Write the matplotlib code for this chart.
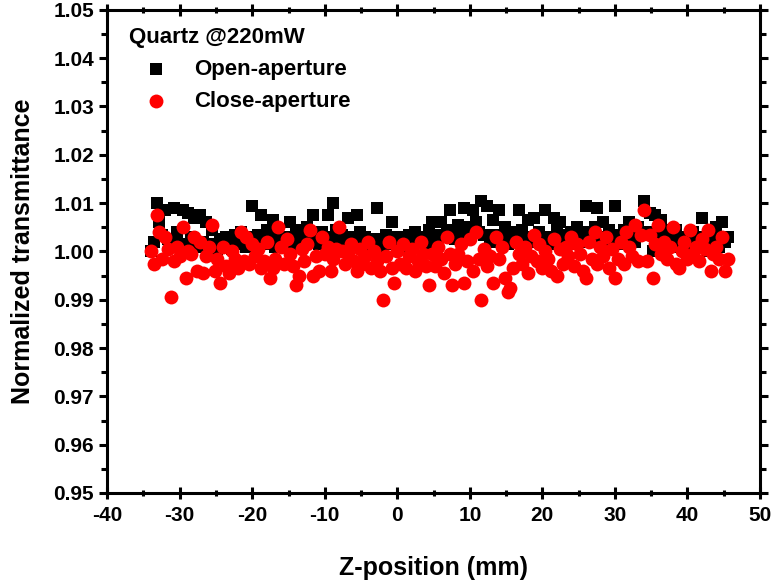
import matplotlib
matplotlib.use('Agg')
import matplotlib.pyplot as plt
from matplotlib.ticker import MultipleLocator

plt.rcParams['font.family'] = ['Liberation Sans', 'DejaVu Sans']
plt.rcParams['font.weight'] = 'bold'
plt.rcParams['axes.unicode_minus'] = False

# Z-scan positions (mm)
z_pos = [
    -34.0, -33.6, -33.2, -32.8, -32.4, -32.0, -31.6, -31.2, -30.8, -30.4,
    -30.0, -29.6, -29.2, -28.8, -28.4, -28.0, -27.6, -27.2, -26.8, -26.4,
    -26.0, -25.6, -25.2, -24.8, -24.4, -24.0, -23.6, -23.2, -22.8, -22.4,
    -22.0, -21.6, -21.2, -20.8, -20.4, -20.0, -19.6, -19.2, -18.8, -18.4,
    -18.0, -17.6, -17.2, -16.8, -16.4, -16.0, -15.6, -15.2, -14.8, -14.4,
    -14.0, -13.6, -13.2, -12.8, -12.4, -12.0, -11.6, -11.2, -10.8, -10.4,
    -10.0, -9.6, -9.2, -8.8, -8.4, -8.0, -7.6, -7.2, -6.8, -6.4,
    -6.0, -5.6, -5.2, -4.8, -4.4, -4.0, -3.6, -3.2, -2.8, -2.4,
    -2.0, -1.6, -1.2, -0.8, -0.4, 0.0, 0.4, 0.8, 1.2, 1.6,
    2.0, 2.4, 2.8, 3.2, 3.6, 4.0, 4.4, 4.8, 5.2, 5.6,
    6.0, 6.4, 6.8, 7.2, 7.6, 8.0, 8.4, 8.8, 9.2, 9.6,
    10.0, 10.4, 10.8, 11.2, 11.6, 12.0, 12.4, 12.8, 13.2, 13.6,
    14.0, 14.4, 14.8, 15.2, 15.6, 16.0, 16.4, 16.8, 17.2, 17.6,
    18.0, 18.4, 18.8, 19.2, 19.6, 20.0, 20.4, 20.8, 21.2, 21.6,
    22.0, 22.4, 22.8, 23.2, 23.6, 24.0, 24.4, 24.8, 25.2, 25.6,
    26.0, 26.4, 26.8, 27.2, 27.6, 28.0, 28.4, 28.8, 29.2, 29.6,
    30.0, 30.4, 30.8, 31.2, 31.6, 32.0, 32.4, 32.8, 33.2, 33.6,
    34.0, 34.4, 34.8, 35.2, 35.6, 36.0, 36.4, 36.8, 37.2, 37.6,
    38.0, 38.4, 38.8, 39.2, 39.6, 40.0, 40.4, 40.8, 41.2, 41.6,
    42.0, 42.4, 42.8, 43.2, 43.6, 44.0, 44.4, 44.8, 45.2, 45.6,
]

# open-aperture normalized transmittance
open_ap = [
    1.0000, 1.0020, 1.0100, 1.0060, 1.0035, 1.0085, 1.0025, 1.0010, 1.0090, 1.0040,
    1.0015, 1.0085, 1.0005, 1.0080, 1.0030, 1.0070, 1.0010, 1.0075, 1.0020, 1.0060,
    1.0000, 1.0045, 1.0015, 1.0005, 1.0025, 1.0010, 1.0030, 1.0020, 1.0005, 1.0035,
    1.0015, 1.0040, 1.0020, 1.0010, 1.0030, 1.0095, 1.0020, 1.0035, 1.0075, 1.0015,
    1.0045, 1.0025, 1.0065, 1.0010, 1.0040, 1.0020, 1.0030, 1.0015, 1.0060, 1.0025,
    1.0045, 1.0010, 1.0030, 1.0020, 1.0050, 1.0025, 1.0075, 1.0035, 1.0015, 1.0040,
    1.0025, 1.0075, 1.0030, 1.0100, 1.0045, 1.0020, 1.0035, 1.0010, 1.0070, 1.0030,
    1.0020, 1.0075, 1.0040, 1.0015, 1.0030, 1.0010, 1.0025, 1.0015, 1.0090, 1.0025,
    1.0010, 1.0035, 1.0020, 1.0060, 1.0015, 1.0030, 1.0010, 1.0025, 1.0020, 1.0035,
    1.0015, 1.0040, 1.0025, 1.0020, 1.0030, 1.0015, 1.0045, 1.0060, 1.0025, 1.0035,
    1.0060, 1.0030, 1.0045, 1.0085, 1.0040, 1.0025, 1.0055, 1.0030, 1.0090, 1.0050,
    1.0030, 1.0085, 1.0060, 1.0040, 1.0105, 1.0035, 1.0095, 1.0020, 1.0065, 1.0035,
    1.0085, 1.0025, 1.0050, 1.0015, 1.0040, 1.0020, 1.0035, 1.0085, 1.0045, 1.0020,
    1.0065, 1.0030, 1.0070, 1.0020, 1.0040, 1.0025, 1.0085, 1.0030, 1.0015, 1.0070,
    1.0045, 1.0060, 1.0025, 1.0035, 1.0015, 1.0040, 1.0020, 1.0050, 1.0030, 1.0020,
    1.0095, 1.0040, 1.0020, 1.0050, 1.0090, 1.0030, 1.0060, 1.0020, 1.0045, 1.0025,
    1.0095, 1.0035, 1.0015, 1.0045, 1.0025, 1.0060, 1.0030, 1.0020, 1.0050, 1.0035,
    1.0105, 1.0040, 1.0080, 1.0000, 1.0075, 1.0030, 1.0065, 1.0015, 1.0045, 1.0020,
    1.0035, 1.0045, 1.0010, 1.0025, 1.0015, 1.0030, 1.0020, 1.0040, 1.0015, 1.0025,
    1.0070, 1.0030, 1.0000, 1.0040, 1.0020, 1.0050, 1.0010, 1.0060, 1.0020, 1.0030,
]

# close-aperture normalized transmittance
close_ap = [
    1.0000, 0.9975, 1.0075, 1.0040, 0.9985, 1.0030, 1.0005, 0.9905, 0.9980, 1.0010,
    0.9990, 1.0050, 0.9945, 1.0000, 0.9995, 1.0030, 0.9960, 1.0020, 0.9955, 0.9990,
    1.0010, 1.0055, 0.9960, 0.9985, 0.9935, 1.0010, 0.9970, 0.9955, 1.0000, 0.9985,
    0.9965, 1.0040, 0.9980, 1.0030, 0.9975, 1.0015, 0.9990, 1.0005, 0.9965, 0.9980,
    1.0020, 0.9945, 0.9965, 0.9985, 1.0050, 1.0010, 0.9975, 1.0025, 0.9995, 0.9970,
    0.9930, 0.9950, 1.0005, 0.9980, 1.0015, 1.0045, 0.9950, 0.9990, 0.9960, 1.0030,
    0.9995, 1.0010, 0.9960, 0.9985, 1.0005, 1.0050, 1.0000, 0.9975, 0.9995, 1.0015,
    0.9980, 0.9960, 1.0005, 0.9975, 0.9990, 1.0020, 0.9965, 1.0000, 0.9980, 0.9960,
    0.9900, 0.9990, 1.0020, 0.9965, 0.9935, 1.0000, 0.9975, 1.0015, 0.9965, 0.9990,
    1.0005, 0.9960, 0.9980, 1.0020, 0.9995, 0.9970, 0.9930, 0.9995, 0.9970, 1.0010,
    0.9985, 0.9955, 1.0030, 0.9995, 0.9930, 0.9975, 0.9995, 1.0015, 0.9935, 0.9980,
    1.0025, 0.9960, 1.0040, 0.9985, 0.9900, 1.0005, 0.9970, 0.9990, 0.9935, 1.0030,
    0.9985, 1.0010, 0.9945, 0.9915, 0.9925, 0.9965, 1.0020, 0.9995, 0.9975, 1.0010,
    0.9955, 0.9990, 1.0035, 0.9980, 1.0015, 0.9965, 1.0000, 0.9985, 0.9960, 1.0025,
    0.9950, 1.0005, 0.9975, 1.0010, 0.9990, 1.0030, 0.9970, 1.0015, 0.9995, 0.9960,
    0.9945, 1.0020, 0.9985, 1.0040, 0.9975, 1.0010, 0.9990, 1.0030, 0.9965, 1.0005,
    0.9945, 0.9985, 1.0020, 0.9975, 1.0040, 1.0010, 0.9990, 1.0055, 0.9980, 1.0035,
    1.0085, 0.9980, 1.0035, 0.9945, 1.0015, 1.0055, 0.9995, 1.0020, 0.9985, 1.0010,
    1.0050, 0.9975, 0.9965, 1.0000, 1.0020, 0.9985, 1.0045, 0.9995, 1.0010, 0.9980,
    1.0025, 1.0005, 1.0045, 0.9960, 0.9995, 1.0010, 0.9985, 1.0030, 0.9960, 0.9985,
]

fig = plt.figure(figsize=(7.77, 5.80), dpi=100)
ax = fig.add_axes([0.138, 0.150, 0.840, 0.833])

ax.scatter(z_pos, open_ap, marker='s', s=66, color='black', linewidths=0,
           label='Open-aperture', zorder=2)
ax.scatter(z_pos, close_ap, marker='o', s=100, color='red', linewidths=0,
           label='Close-aperture', zorder=3)

ax.set_xlim(-40, 50)
ax.set_ylim(0.95, 1.05)
ax.xaxis.set_major_locator(MultipleLocator(10))
ax.xaxis.set_minor_locator(MultipleLocator(5))
ax.yaxis.set_major_locator(MultipleLocator(0.01))
ax.yaxis.set_minor_locator(MultipleLocator(0.005))
ax.set_yticks(ax.get_yticks())
ax.set_yticklabels([f'{v:.2f}' for v in ax.get_yticks()])
ax.set_ylim(0.95, 1.05)

for sp in ax.spines.values():
    sp.set_linewidth(2.2)

ax.tick_params(which='both', top=True, right=True, direction='out', width=2.2,
               labelsize=15)
ax.tick_params(which='major', length=6)
ax.tick_params(which='minor', length=4)
ax.tick_params(axis='x', which='both', bottom=True, direction='inout')
ax.tick_params(axis='x', which='major', length=9, pad=5)

for lbl in ax.get_xticklabels() + ax.get_yticklabels():
    lbl.set_fontweight('bold')

ax.set_xlabel('Z-position (mm)', fontsize=18, fontweight='bold', labelpad=22)
ax.set_ylabel('Normalized transmittance', fontsize=18, fontweight='bold', labelpad=13)

leg = ax.legend(loc='upper left', bbox_to_anchor=(0.034, 0.965), frameon=False,
                title='Quartz @220mW', alignment='left', fontsize=16,
                handlelength=2.4, handletextpad=0.5, labelspacing=0.5,
                borderpad=0, borderaxespad=0)
leg.get_title().set_fontsize(16)
leg.get_title().set_fontweight('bold')
for t in leg.get_texts():
    t.set_fontweight('bold')

fig.savefig('out.png', dpi=100)
